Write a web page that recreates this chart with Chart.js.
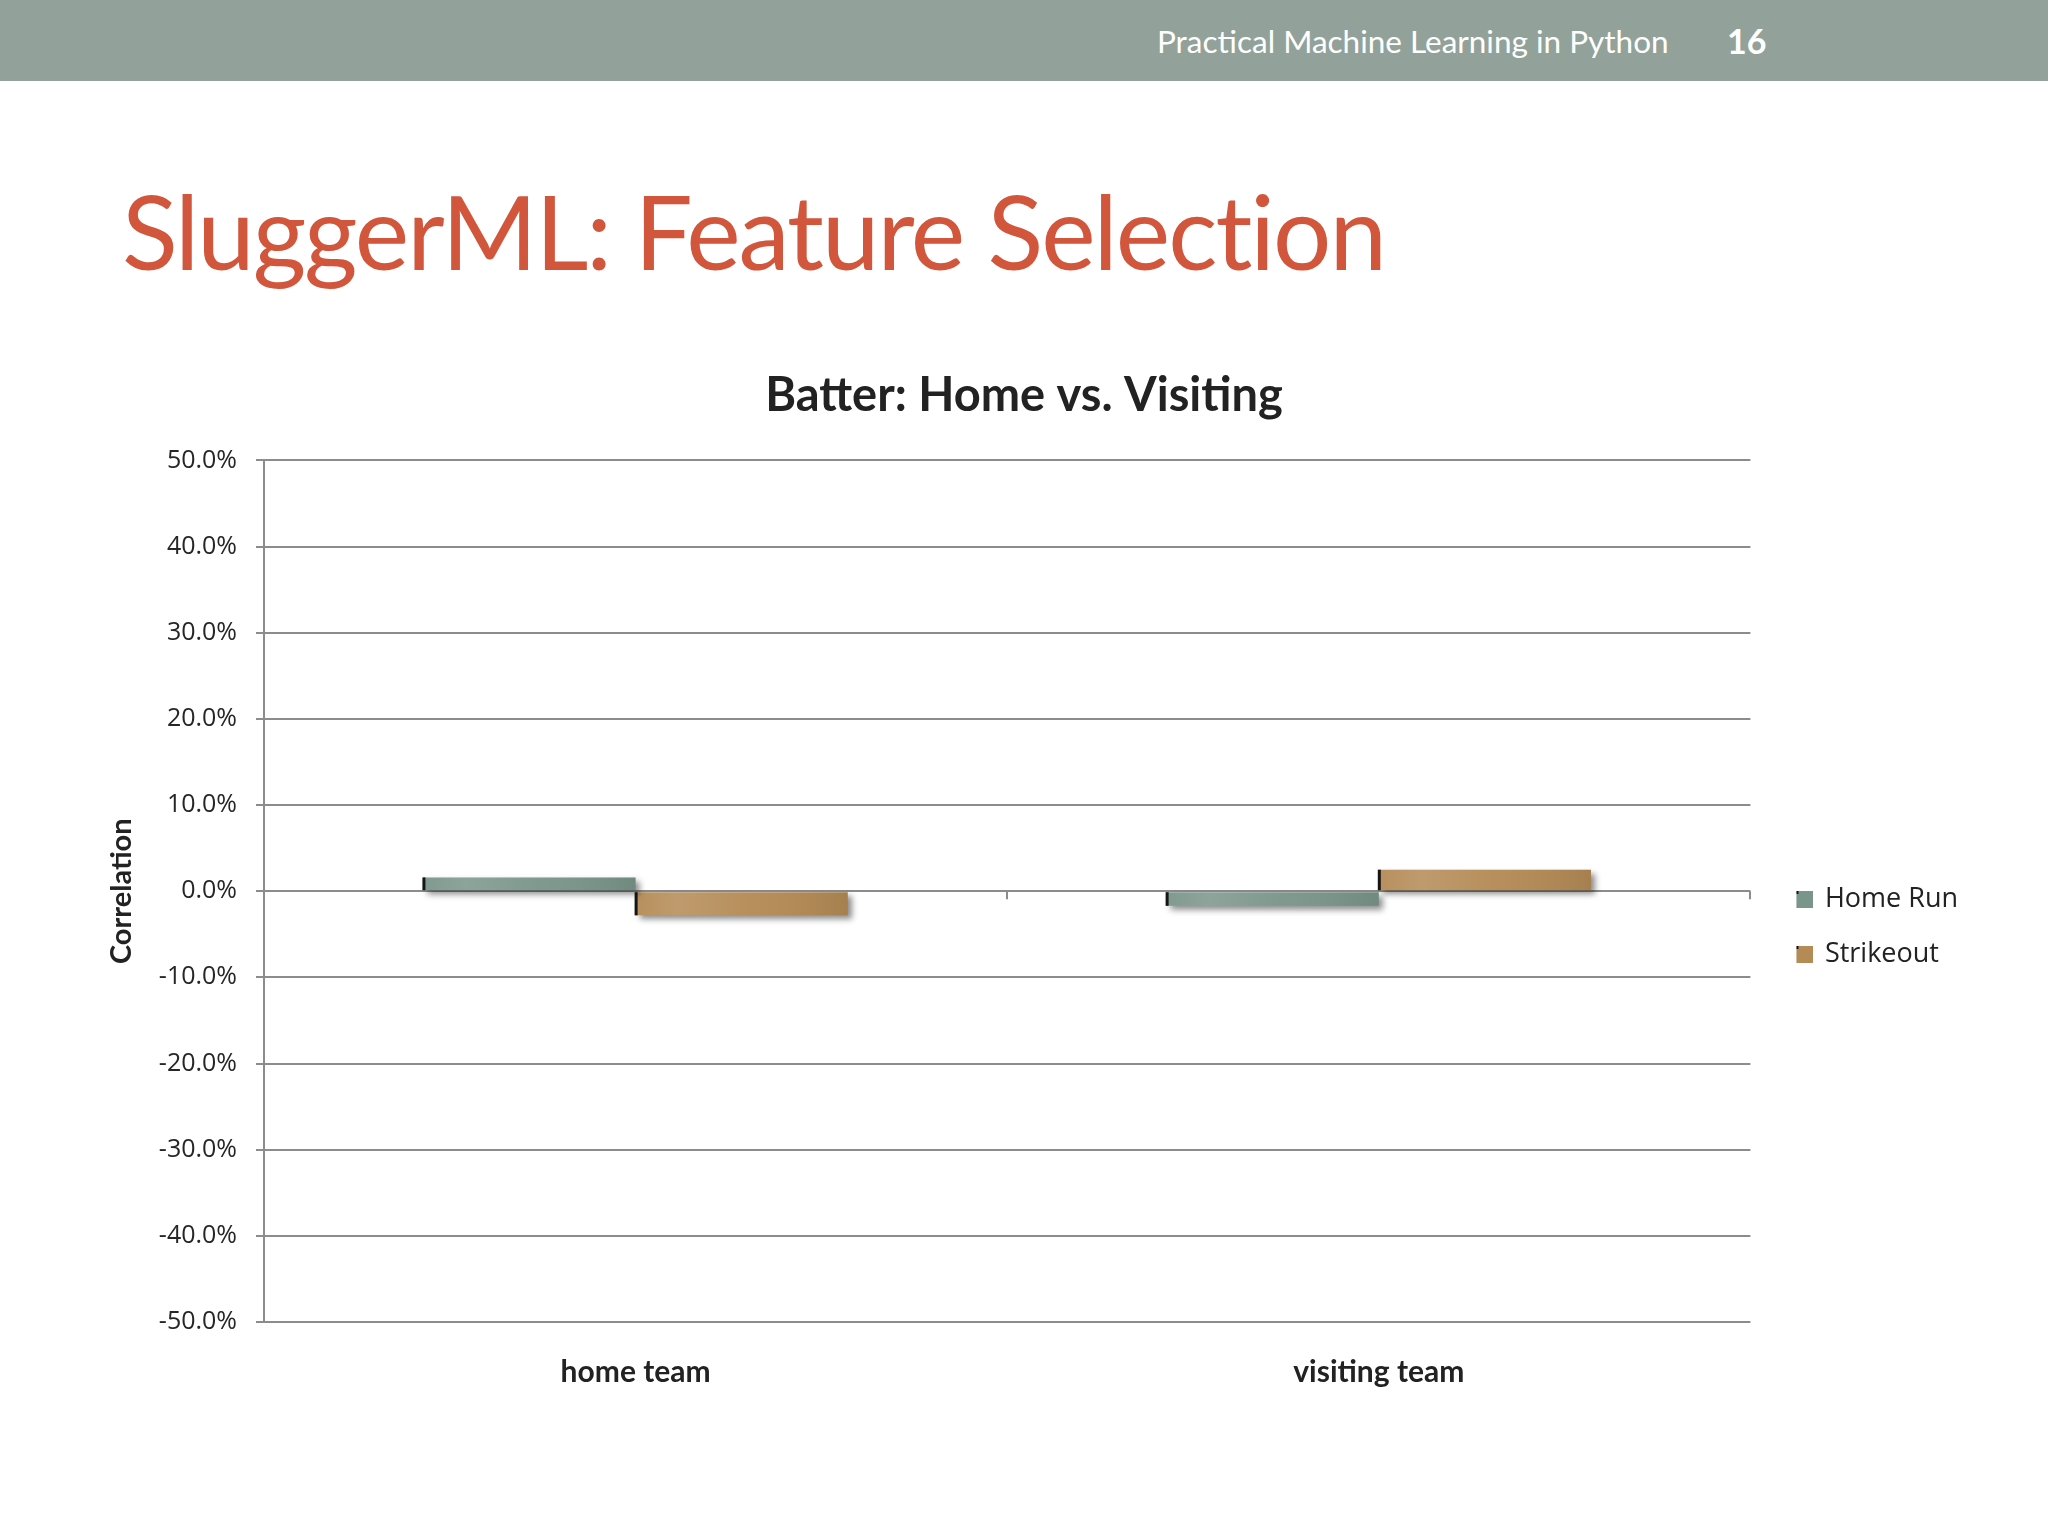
<!DOCTYPE html>
<html>
<head>
<meta charset="utf-8">
<script src="https://cdn.jsdelivr.net/npm/chart.js@4.4.0/dist/chart.umd.min.js"></script>
<style>
  html, body { margin: 0; padding: 0; background: #fff; }
  body { width: 2048px; height: 1536px; position: relative; overflow: hidden; }
  #header { position: absolute; left: 0; top: 0; width: 2048px; height: 81px; background: #92a29a; }
  #header .course { position: absolute; left: 1157px; top: 22px; font: 31.5px Lato, sans-serif; color: #fff; }
  #header .page { position: absolute; left: 1727px; top: 20px; font: bold 34px Lato, sans-serif; color: #fff; }
  #title { position: absolute; left: 122px; top: 168px; font: 103px Lato, sans-serif; color: #d1563b; letter-spacing: -2px; white-space: nowrap; }
  #chartBox { position: absolute; left: 80px; top: 350px; width: 1888px; height: 1080px; }
</style>
</head>
<body>
<div id="header"><span class="course">Practical Machine Learning in Python</span><span class="page">16</span></div>
<div id="title">SluggerML: Feature Selection</div>
<div id="chartBox"><canvas id="chart"></canvas></div>
<script>
// Chart data
const categories = ['home team', 'visiting team'];
const homeRun = [1.6, -1.7];
const strikeout = [-2.8, 2.5];
const yTicks = { min: -50, max: 50, step: 10 };

const hrColor = '#7a958a';
const soColor = '#b48a55';

// legend swatch: empty space on the left, then the coloured square
function swatch(color) {
    const c = document.createElement('canvas');
    c.width = 37;
    c.height = 17;
    const g = c.getContext('2d');
    g.fillStyle = color;
    g.fillRect(20, 0, 17, 17);
    g.fillStyle = '#111';
    g.fillRect(20, 0, 2, 3);
    return c;
}

// Shadow under bars, light gradient and dark left edge on top of them
const barLook = {
    id: 'barLook',
    afterLayout(chart) {
        // chart title sits a bit left of the canvas centre
        chart.titleBlock.right -= 24;
    },
    beforeDatasetsDraw(chart) {
        const ctx = chart.ctx;
        ctx.save();
        ctx.shadowColor = 'rgba(0,0,0,0.45)';
        ctx.shadowBlur = 6;
        ctx.shadowOffsetX = 4;
        ctx.shadowOffsetY = 4;
    },
    afterDatasetsDraw(chart) {
        const ctx = chart.ctx;
        ctx.restore();
        chart.data.datasets.forEach((ds, di) => {
            chart.getDatasetMeta(di).data.forEach(bar => {
                const left = bar.x - bar.width / 2;
                const top = Math.min(bar.y, bar.base);
                const h = Math.abs(bar.base - bar.y);
                const g = ctx.createLinearGradient(left, 0, left + bar.width, 0);
                g.addColorStop(0, 'rgba(255,255,255,0.05)');
                g.addColorStop(0.2, 'rgba(255,255,255,0.14)');
                g.addColorStop(0.55, 'rgba(255,255,255,0.04)');
                g.addColorStop(1, 'rgba(0,0,0,0.08)');
                ctx.fillStyle = g;
                ctx.fillRect(left, top, bar.width, h);
                ctx.fillStyle = '#151515';
                ctx.fillRect(left - 1, top, 3, h);
            });
        });
        // small ticks on the zero line between categories
        const x = chart.scales.x, y = chart.scales.y;
        const half = (x.getPixelForValue(1) - x.getPixelForValue(0)) / 2;
        const y0 = y.getPixelForValue(0);
        ctx.strokeStyle = '#8c8c8c';
        ctx.lineWidth = 2;
        categories.forEach((c, i) => {
            const px = Math.round(x.getPixelForValue(i) + half);
            ctx.beginPath();
            ctx.moveTo(px, y0);
            ctx.lineTo(px, y0 + 8);
            ctx.stroke();
        });
    }
};

new Chart(document.getElementById('chart'), {
    type: 'bar',
    data: {
        labels: categories,
        datasets: [{
            label: 'Home Run',
            data: homeRun,
            backgroundColor: hrColor,
            pointStyle: swatch(hrColor),
        }, {
            label: 'Strikeout',
            data: strikeout,
            backgroundColor: soColor,
            pointStyle: swatch(soColor),
        }],
    },
    plugins: [barLook],
    options: {
        responsive: true,
        maintainAspectRatio: false,
        animation: false,
        devicePixelRatio: 1,
        categoryPercentage: 0.571,
        barPercentage: 1,
        layout: { padding: { left: 24, right: 0, top: 0, bottom: 0 } },
        plugins: {
            tooltip: { enabled: false },
            title: {
                display: true,
                text: 'Batter: Home vs. Visiting',
                color: '#222',
                font: { family: 'Lato', size: 47, weight: 'bold' },
                padding: { top: 18, bottom: 36 },
            },
            legend: {
                position: 'right',
                title: {
                    display: true,
                    text: ' ',
                    font: { size: 10 },
                    padding: { top: 62, bottom: 0 },
                },
                labels: {
                    color: '#222',
                    font: { family: 'Open Sans', size: 27 },
                    usePointStyle: true,
                    pointStyleWidth: 33,
                    boxHeight: 17,
                    padding: 28,
                },
            },
        },
        scales: {
            x: {
                grid: { display: false, drawTicks: false },
                border: { display: false },
                ticks: {
                    color: '#222',
                    padding: 32,
                    font: { family: 'Lato', size: 30, weight: 'bold' },
                },
                afterFit: s => { s.height = 108; },
            },
            y: {
                min: yTicks.min,
                max: yTicks.max,
                ticks: {
                    stepSize: yTicks.step,
                    color: '#262626',
                    padding: 19,
                    font: { family: 'Open Sans', size: 25 },
                    callback: v => v.toFixed(1) + '%',
                },
                grid: { color: '#8c8c8c', lineWidth: 2, tickLength: 8 },
                border: { color: '#8c8c8c', width: 2 },
                title: {
                    display: true,
                    text: 'Correlation',
                    color: '#222',
                    font: { family: 'Lato', size: 29, weight: 'bold' },
                    padding: 0,
                },
                afterFit: s => { s.width = 160; },
            },
        },
    },
});
</script>
</body>
</html>
